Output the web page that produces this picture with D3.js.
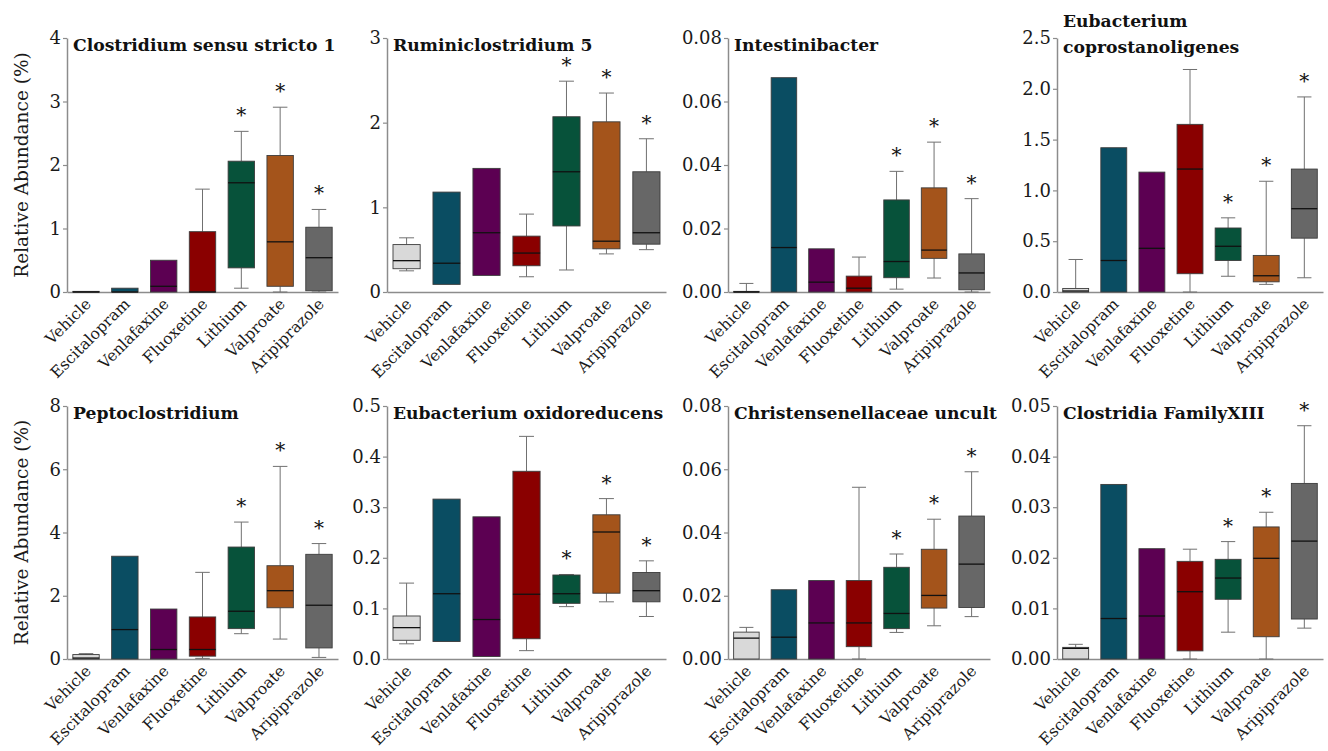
<!DOCTYPE html>
<html>
<head>
<meta charset="utf-8">
<script src="https://cdn.jsdelivr.net/npm/d3@7"></script>
<style>
  body { margin: 0; background: #fff; }
  svg { display: block; font-family: "DejaVu Serif", serif; }
</style>
</head>
<body>
<svg id="chart" width="1328" height="751"></svg>
<script>
const groups = ["Vehicle", "Escitalopram", "Venlafaxine", "Fluoxetine", "Lithium", "Valproate", "Aripiprazole"];
const groupColors = ["#d9d9d9", "#0a4d62", "#5c0052", "#8a0000", "#07523a", "#a4541b", "#676767"];
const starred = ["Lithium", "Valproate", "Aripiprazole"];

// each row: [whisker low, q1, median, q3, whisker high], one row per group
const clostridiumSS1 = [
    [0, 0, 0, 0.01, 0.01],
    [0, 0, 0, 0.06, 0.06],
    [0, 0, 0.09, 0.50, 0.50],
    [0, 0, 0, 0.95, 1.62],
    [0.06, 0.38, 1.72, 2.06, 2.53],
    [0, 0.09, 0.79, 2.15, 2.91],
    [0, 0.02, 0.54, 1.02, 1.30]
];
const ruminiclostridium5 = [
    [0.25, 0.275, 0.37, 0.56, 0.64],
    [0.09, 0.09, 0.34, 1.18, 1.18],
    [0.196, 0.196, 0.70, 1.46, 1.46],
    [0.18, 0.31, 0.46, 0.66, 0.92],
    [0.26, 0.78, 1.42, 2.07, 2.49],
    [0.45, 0.51, 0.60, 2.01, 2.35],
    [0.50, 0.565, 0.70, 1.42, 1.81]
];
const intestinibacter = [
    [0, 0, 0, 0.0002, 0.0027],
    [0, 0, 0.014, 0.0675, 0.0675],
    [0, 0, 0.0031, 0.0136, 0.0136],
    [0, 0, 0.0012, 0.005, 0.011],
    [0.0009, 0.0045, 0.0096, 0.029, 0.038],
    [0.0044, 0.0106, 0.0132, 0.0328, 0.0472],
    [0, 0.0007, 0.006, 0.012, 0.0294]
];
const eubacteriumCopro = [
    [0, 0, 0.01, 0.035, 0.32],
    [0, 0, 0.31, 1.42, 1.42],
    [0, 0, 0.43, 1.18, 1.18],
    [0, 0.18, 1.21, 1.65, 2.19],
    [0.155, 0.31, 0.45, 0.63, 0.73],
    [0.075, 0.10, 0.16, 0.36, 1.09],
    [0.14, 0.53, 0.82, 1.21, 1.92]
];
const peptoclostridium = [
    [0, 0, 0.03, 0.14, 0.17],
    [0, 0, 0.93, 3.25, 3.25],
    [0, 0, 0.30, 1.58, 1.58],
    [0.02, 0.09, 0.30, 1.33, 2.74],
    [0.80, 0.96, 1.51, 3.54, 4.33],
    [0.63, 1.62, 2.16, 2.95, 6.09],
    [0.05, 0.35, 1.70, 3.31, 3.65]
];
const eubacteriumOxido = [
    [0.030, 0.037, 0.062, 0.085, 0.150],
    [0.0345, 0.0345, 0.129, 0.316, 0.316],
    [0.005, 0.005, 0.078, 0.281, 0.281],
    [0.0165, 0.040, 0.128, 0.371, 0.440],
    [0.1035, 0.110, 0.129, 0.166, 0.167],
    [0.113, 0.130, 0.251, 0.285, 0.317],
    [0.084, 0.113, 0.135, 0.171, 0.194]
];
const christensenellaceae = [
    [0, 0, 0.0066, 0.0085, 0.0100],
    [0, 0, 0.0069, 0.0219, 0.0219],
    [0, 0, 0.0114, 0.0248, 0.0248],
    [0, 0.0039, 0.0114, 0.0248, 0.0543],
    [0.0084, 0.0096, 0.0144, 0.029, 0.0332],
    [0.0105, 0.0161, 0.0201, 0.0347, 0.0442],
    [0.0134, 0.0163, 0.030, 0.0452, 0.0592]
];
const clostridiaXIII = [
    [0, 0, 0.0021, 0.0023, 0.0029],
    [0, 0, 0.0080, 0.0345, 0.0345],
    [0, 0, 0.0085, 0.0218, 0.0218],
    [0, 0.0016, 0.0133, 0.0193, 0.0217],
    [0.0053, 0.0118, 0.016, 0.0197, 0.0232],
    [0, 0.0044, 0.0199, 0.0261, 0.029],
    [0.0061, 0.0079, 0.0233, 0.0347, 0.0461]
];

const panels = [
    {title: ["Clostridium sensu stricto 1"], data: clostridiumSS1, yMax: 4, ticks: [0, 1, 2, 3, 4], fmt: "d"},
    {title: ["Ruminiclostridium 5"], data: ruminiclostridium5, yMax: 3, ticks: [0, 1, 2, 3], fmt: "d"},
    {title: ["Intestinibacter"], data: intestinibacter, yMax: 0.08, ticks: [0, 0.02, 0.04, 0.06, 0.08], fmt: ".2f"},
    {title: ["Eubacterium", "coprostanoligenes"], data: eubacteriumCopro, yMax: 2.5, ticks: [0, 0.5, 1, 1.5, 2, 2.5], fmt: ".1f"},
    {title: ["Peptoclostridium"], data: peptoclostridium, yMax: 8, ticks: [0, 2, 4, 6, 8], fmt: "d"},
    {title: ["Eubacterium oxidoreducens"], data: eubacteriumOxido, yMax: 0.5, ticks: [0, 0.1, 0.2, 0.3, 0.4, 0.5], fmt: ".1f"},
    {title: ["Christensenellaceae uncult"], data: christensenellaceae, yMax: 0.08, ticks: [0, 0.02, 0.04, 0.06, 0.08], fmt: ".2f"},
    {title: ["Clostridia FamilyXIII"], data: clostridiaXIII, yMax: 0.05, ticks: [0, 0.01, 0.02, 0.03, 0.04, 0.05], fmt: ".2f"}
];

// layout
let axisX = [67, 387, 728, 1057];
let plotW = [271, 279, 262, 266];
let rowTop = [38, 406];
let rowBottom = [292, 659];

let svg = d3.select("#chart");

function drawPanel(p, i) {
    let col = i % 4;
    let row = Math.floor(i / 4);
    let left = axisX[col];
    let top = rowTop[row];
    let bottom = rowBottom[row];

    let x = d3.scaleBand()
        .domain(groups)
        .range([left, left + plotW[col]])
        .paddingInner(0.32)
        .paddingOuter(0.15);
    let y = d3.scaleLinear()
        .domain([0, p.yMax])
        .range([bottom, top]);
    let color = d3.scaleOrdinal().domain(groups).range(groupColors);

    let g = svg.append("g");

    // axes
    let yAxis = d3.axisLeft(y)
        .tickValues(p.ticks)
        .tickFormat(d3.format(p.fmt))
        .tickSizeInner(4)
        .tickSizeOuter(0)
        .tickPadding(2);
    let yg = g.append("g")
        .attr("transform", "translate(" + left + ",0)")
        .call(yAxis);

    let xAxis = d3.axisBottom(x).tickSize(0);
    let xg = g.append("g")
        .attr("transform", "translate(0," + bottom + ")")
        .call(xAxis);
    xg.selectAll("text")
        .attr("x", 0)
        .attr("y", 0)
        .attr("dy", 0)
        .attr("transform", "translate(6,13) rotate(-45)")
        .style("text-anchor", "end");

    [yg, xg].forEach(a => {
        a.select(".domain").attr("stroke", "#8c8c8c").attr("stroke-width", 1.5);
        a.selectAll(".tick line").attr("stroke", "#8c8c8c").attr("stroke-width", 1.2);
        a.selectAll("text")
            .attr("fill", "#1a1a1a")
            .attr("font-family", "DejaVu Serif")
            .attr("font-size", a === yg ? 18 : 15.6);
    });

    let boxes = groups.map((name, k) => ({name: name, v: p.data[k]}));
    let bw = x.bandwidth();
    let cap = bw * 0.55;

    let bx = g.append("g").selectAll("g")
        .data(boxes)
        .enter()
        .append("g");

    // whiskers
    bx.filter(d => d.v[4] > d.v[3])
        .append("line")
        .attr("x1", d => x(d.name) + bw / 2)
        .attr("x2", d => x(d.name) + bw / 2)
        .attr("y1", d => y(d.v[3]))
        .attr("y2", d => y(d.v[4]))
        .attr("stroke", "#707070");
    bx.filter(d => d.v[4] > d.v[3])
        .append("line")
        .attr("x1", d => x(d.name) + bw / 2 - cap / 2)
        .attr("x2", d => x(d.name) + bw / 2 + cap / 2)
        .attr("y1", d => y(d.v[4]))
        .attr("y2", d => y(d.v[4]))
        .attr("stroke", "#707070");
    bx.filter(d => d.v[0] < d.v[1])
        .append("line")
        .attr("x1", d => x(d.name) + bw / 2)
        .attr("x2", d => x(d.name) + bw / 2)
        .attr("y1", d => y(d.v[1]))
        .attr("y2", d => y(d.v[0]))
        .attr("stroke", "#707070");
    bx.filter(d => d.v[0] < d.v[1])
        .append("line")
        .attr("x1", d => x(d.name) + bw / 2 - cap / 2)
        .attr("x2", d => x(d.name) + bw / 2 + cap / 2)
        .attr("y1", d => y(d.v[0]))
        .attr("y2", d => y(d.v[0]))
        .attr("stroke", "#707070");

    // boxes
    bx.append("rect")
        .attr("x", d => x(d.name))
        .attr("width", bw)
        .attr("y", d => y(d.v[3]))
        .attr("height", d => Math.max(0.8, y(d.v[1]) - y(d.v[3])))
        .attr("fill", d => color(d.name))
        .attr("stroke", "#3c3c3c")
        .attr("stroke-width", 0.9);

    // medians
    bx.append("line")
        .attr("x1", d => x(d.name))
        .attr("x2", d => x(d.name) + bw)
        .attr("y1", d => y(d.v[2]))
        .attr("y2", d => y(d.v[2]))
        .attr("stroke", "#111")
        .attr("stroke-width", 1.3);

    // significance marks
    bx.filter(d => starred.includes(d.name))
        .append("text")
        .attr("x", d => x(d.name) + bw / 2)
        .attr("y", d => y(d.v[4]) - 9)
        .attr("text-anchor", "middle")
        .attr("font-size", 20)
        .attr("fill", "#111")
        .text("*");

    // title
    let nLines = p.title.length;
    g.append("text")
        .attr("x", left + 6)
        .attr("y", top + 13 + (nLines > 1 ? 2 : 0))
        .attr("font-size", 17.2)
        .attr("font-weight", "bold")
        .attr("fill", "#111")
        .selectAll("tspan")
        .data(p.title)
        .enter()
        .append("tspan")
        .attr("x", left + 6)
        .attr("dy", (d, k) => k === 0 ? -(nLines - 1) * 26 : 26)
        .text(d => d);

    if(col === 0) {
        g.append("text")
            .attr("transform", "translate(28," + (top + bottom) / 2 + ") rotate(-90)")
            .attr("text-anchor", "middle")
            .attr("font-size", 18.5)
            .attr("fill", "#1a1a1a")
            .text("Relative Abundance (%)");
    }
}

panels.forEach(drawPanel);
</script>
</body>
</html>
